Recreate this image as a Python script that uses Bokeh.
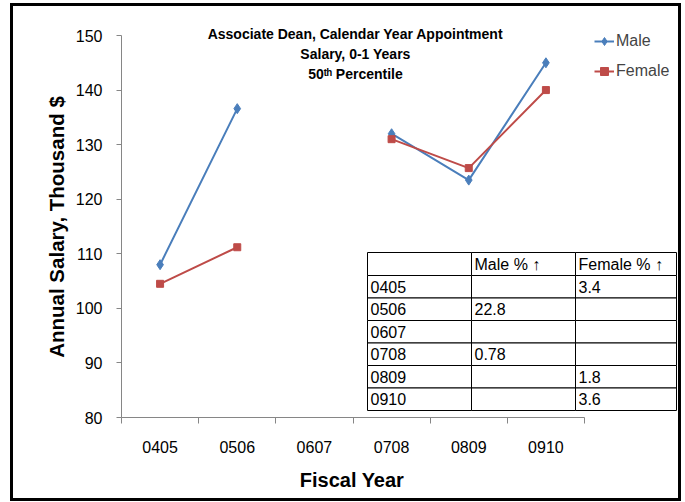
import math
import numpy as np
from bokeh.plotting import figure
from bokeh.models import (Range1d, FixedTicker, Label, BoxAnnotation, Legend, LegendItem)
from bokeh.embed import file_html
from bokeh.resources import INLINE

# ---------------- data ----------------
years = ["0405", "0506", "0607", "0708", "0809", "0910"]
male = [108.0, 136.6, np.nan, 132.0, 123.5, 145.0]
female = [104.5, 111.2, np.nan, 131.0, 125.7, 140.0]
y_ticks = [80, 90, 100, 110, 120, 130, 140, 150]
table_header = ["", "Male % \u2191", "Female % \u2191"]
male_pct = ["", "22.8", "", "0.78", "", ""]
female_pct = ["3.4", "", "", "", "1.8", "3.6"]
title_lines = ["Associate Dean, Calendar Year Appointment", "Salary, 0-1 Years", "50\u1d57\u02b0 Percentile"]
x_title = "Fiscal Year"
y_title = "Annual Salary, Thousand $"

BLUE = "#4A7EBB"
RED = "#BE4B48"
AXIS = "#868686"
FONT = "Liberation Sans"

# ---------------- layout (pixels of the reference picture) ----------------
BORDER = 3
ML, MT = 10, 3                       # css margins
OX, OY = ML + BORDER, MT + BORDER    # canvas origin in the page
CW, CH = 671, 498                    # element / canvas size
AX_L, AX_R = 121, 584                # category axis extent (-0.5 .. 5.5)
PY_TOP, PY_BOT = 35, 417             # pixel rows of y = 150 and y = 80
UX = 6 / (AX_R - AX_L)
UY = 70 / (PY_BOT - PY_TOP)

def dx(px):
    return -0.5 + (px - AX_L) * UX

def dy(py):
    return 80 + (PY_BOT - py) * UY

xs = list(range(len(years)))

p = figure(width=CW, height=CH, output_backend="svg", toolbar_location=None,
           x_range=Range1d(dx(OX), dx(OX + CW)), y_range=Range1d(dy(OY + CH), dy(OY)),
           min_border_left=0, min_border_right=0, min_border_top=0, min_border_bottom=0)
p.styles = {"border": f"{BORDER}px solid black", "margin-left": f"{ML}px", "margin-top": f"{MT}px"}
p.xgrid.visible = False
p.ygrid.visible = False
p.outline_line_color = None
p.background_fill_color = "white"
p.border_fill_color = "white"

# x axis (drawn at y = 80 inside the frame)
xa = p.xaxis[0]
xa.fixed_location = 80
xa.ticker = FixedTicker(ticks=xs, minor_ticks=[i - 0.5 for i in range(len(years) + 1)])
xa.major_label_overrides = {i: y for i, y in enumerate(years)}
xa.major_tick_line_color = None
xa.major_tick_out = 0
xa.major_tick_in = 0
xa.minor_tick_out = 6
xa.minor_tick_in = 0
xa.minor_tick_line_color = AXIS
xa.axis_line_color = None
xa.major_label_standoff = 17
xa.major_label_text_font = FONT
xa.major_label_text_font_size = "16px"
xa.major_label_text_color = "black"

# y axis (drawn at x = -0.5 inside the frame)
ya = p.yaxis[0]
ya.fixed_location = -0.5
ya.ticker = FixedTicker(ticks=y_ticks, minor_ticks=[])
ya.major_tick_out = 5
ya.major_tick_in = 0
ya.major_tick_line_color = AXIS
ya.axis_line_color = None
ya.major_label_standoff = 14
ya.major_label_text_font = FONT
ya.major_label_text_font_size = "16px"
ya.major_label_text_color = "black"

# axis lines limited to the category / value extent
p.segment(x0=[-0.5], y0=[80], x1=[5.5], y1=[80], line_color=AXIS, line_width=1)
p.segment(x0=[-0.5], y0=[80], x1=[-0.5], y1=[150], line_color=AXIS, line_width=1)

# axis titles
p.add_layout(Label(x=dx(351.5), y=dy(479), text=x_title, text_align="center",
                   text_baseline="alphabetic", text_font=FONT, text_font_style="bold",
                   text_font_size="20px", text_color="black"))
p.add_layout(Label(x=dx(55.5), y=dy(226.5), text=y_title, angle=math.pi / 2,
                   text_align="center", text_baseline="alphabetic", text_font=FONT,
                   text_font_style="bold", text_font_size="20.5px", text_color="black"))

# series
ml = p.line(xs, male, line_color=BLUE, line_width=2)
ms = p.scatter(xs, male, marker="diamond", size=10, fill_color=BLUE, line_color=BLUE)
fl = p.line(xs, female, line_color=RED, line_width=2)
fs = p.scatter(xs, female, marker="square", size=7, fill_color=RED, line_color=RED)

legend = Legend(items=[LegendItem(label="Male", renderers=[ml, ms]),
                       LegendItem(label="Female", renderers=[fl, fs])],
                location=(594 - OX, (OY + CH) - 81), glyph_width=20, glyph_height=20,
                label_height=20, spacing=10, padding=0, margin=0, label_standoff=2,
                label_text_font=FONT, label_text_font_size="16px",
                background_fill_alpha=0, border_line_color=None)
p.add_layout(legend)

# chart title
for i, t in enumerate(title_lines):
    p.add_layout(Label(x=dx(355), y=dy(33 + 20 * i), text=t, text_align="center",
                       text_baseline="middle", text_font=FONT, text_font_style="bold",
                       text_font_size="14px", text_color="black"))

# table
col_px = [367, 471, 575, 676]
row_px = [252, 275, 297.5, 320, 342.5, 365, 387.5, 410]
rows = [table_header] + [[years[i], male_pct[i], female_pct[i]] for i in range(len(years))]
for r, row in enumerate(rows):
    for c, txt in enumerate(row):
        p.add_layout(BoxAnnotation(left=dx(col_px[c]), right=dx(col_px[c + 1]),
                                   top=dy(row_px[r]), bottom=dy(row_px[r + 1]),
                                   fill_color="white", fill_alpha=1.0,
                                   line_color="black", line_width=1, line_alpha=1.0))
for r, row in enumerate(rows):
    for c, txt in enumerate(row):
        if txt:
            p.add_layout(Label(x=dx(col_px[c] + 3), y=dy((row_px[r] + row_px[r + 1]) / 2),
                               text=txt, text_align="left", text_baseline="middle",
                               text_font=FONT, text_font_size="16px", text_color="black"))

open("out.html", "w").write(file_html(p, INLINE))
